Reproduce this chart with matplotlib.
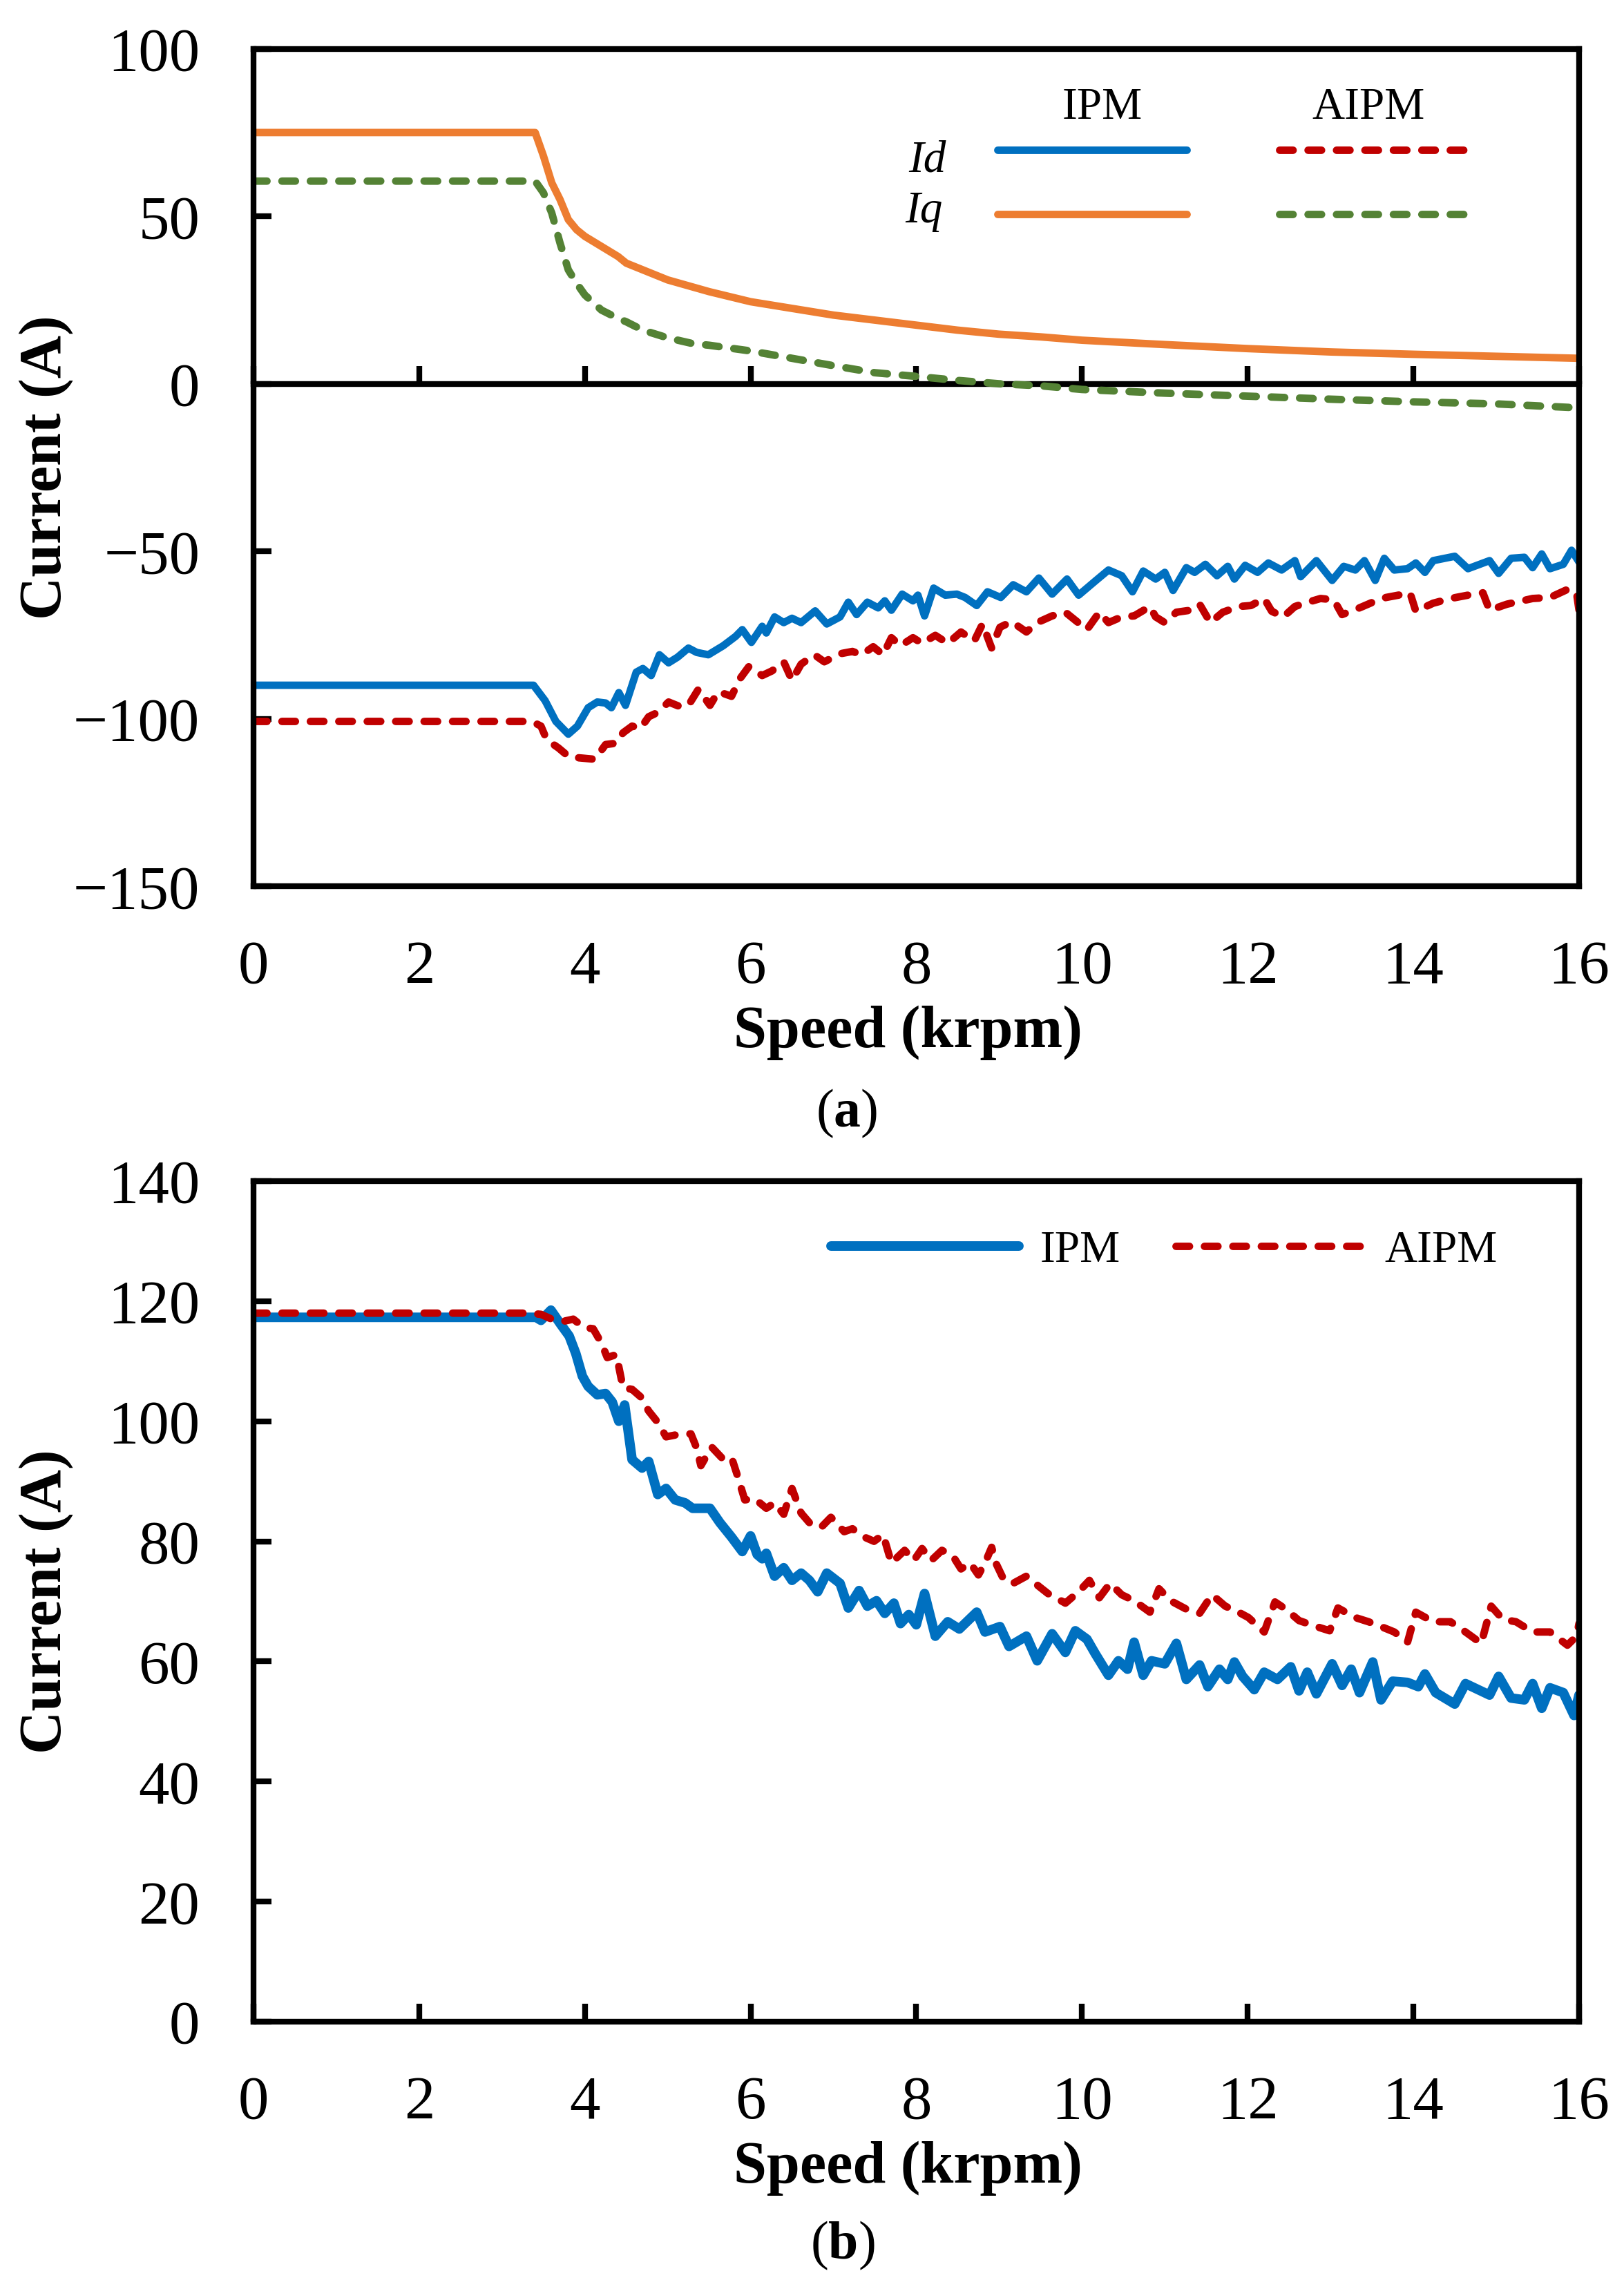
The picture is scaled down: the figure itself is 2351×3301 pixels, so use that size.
import matplotlib
matplotlib.use("Agg")
import matplotlib.pyplot as plt

plt.rcParams['font.family'] = ['Liberation Serif', 'DejaVu Serif']
plt.rcParams['mathtext.fontset'] = 'custom'
plt.rcParams['mathtext.rm'] = 'Liberation Serif'
plt.rcParams['mathtext.bf'] = 'Liberation Serif:bold'
plt.rcParams['mathtext.it'] = 'Liberation Serif:italic'

# ---------------- data, panel (a): d/q currents vs speed ----------------
speed_iq_ipm = [0, 3.4, 3.5, 3.6, 3.7, 3.8, 3.9, 4.0, 4.2, 4.4, 4.5, 4.7, 5.0, 5.5, 6.0,
                6.5, 7.0, 7.5, 8.0, 8.5, 9.0, 9.5, 10.0, 11.0, 12.0, 13.0, 14.0, 15.0, 16.0]
iq_ipm = [75, 75, 68, 60, 55, 49, 46, 44, 41, 38, 36, 34, 31, 27.5, 24.5,
          22.5, 20.5, 19, 17.5, 16, 14.8, 14, 13, 11.7, 10.5, 9.5, 8.8, 8.2, 7.6]

speed_iq_aipm = [0, 3.4, 3.5, 3.6, 3.7, 3.8, 3.9, 4.0, 4.2, 4.4, 4.5, 4.7, 5.0, 5.3, 5.5,
                 6.0, 6.5, 7.0, 7.5, 8.0, 8.5, 9.0, 9.5, 10.0, 11.0, 12.0, 13.0, 14.0,
                 15.0, 15.5, 16.0]
iq_aipm = [60.5, 60.5, 57, 51, 42, 34, 30, 26.5, 22, 19.5, 18.5, 16, 13.7, 12, 11.5,
           9.8, 7.6, 5.4, 3.3, 2.2, 1.0, 0, -0.6, -1.7, -2.8, -3.7, -4.6, -5.4,
           -6.0, -6.6, -7.2]

speed_id_ipm = [0, 3.38, 3.52, 3.65, 3.80, 3.91, 4.04, 4.15, 4.25, 4.32, 4.41, 4.49, 4.62,
                4.70, 4.80, 4.90, 5.01, 5.12, 5.25, 5.35, 5.49, 5.67, 5.82, 5.90, 6.01,
                6.14, 6.19, 6.29, 6.40, 6.50, 6.61, 6.78, 6.92, 7.08, 7.18, 7.28, 7.41,
                7.54, 7.62, 7.70, 7.83, 7.96, 8.02, 8.10, 8.21, 8.35, 8.49, 8.59, 8.73,
                8.86, 9.02, 9.17, 9.33, 9.48, 9.64, 9.82, 9.96, 10.17, 10.32, 10.48,
                10.61, 10.74, 10.89, 11.0, 11.10, 11.26, 11.36, 11.49, 11.63, 11.76,
                11.84, 11.97, 12.12, 12.25, 12.41, 12.57, 12.64, 12.83, 13.02, 13.16,
                13.30, 13.41, 13.54, 13.65, 13.77, 13.93, 14.03, 14.14, 14.24, 14.50,
                14.66, 14.92, 15.03, 15.18, 15.34, 15.44, 15.55, 15.65, 15.81, 15.91, 16.0]
id_ipm = [-90.0, -90.0, -94.6, -100.8, -104.6, -102.2, -96.7, -95.0, -95.3, -96.7, -92.2,
          -96.0, -86.1, -85.0, -87.1, -80.9, -83.3, -81.6, -78.9, -80.2, -80.9, -78.2,
          -75.4, -73.4, -77.2, -72.4, -74.4, -69.6, -71.3, -70.0, -71.3, -67.8, -71.7,
          -69.6, -65.2, -68.9, -65.2, -66.9, -64.8, -67.6, -62.8, -64.8, -63.1, -69.3,
          -61.0, -63.1, -62.8, -63.8, -66.2, -62.1, -63.8, -60.0, -62.1, -58.0, -62.8,
          -58.3, -63.1, -58.7, -55.6, -57.3, -62.1, -55.9, -58.3, -56.3, -61.7, -54.9,
          -56.3, -53.9, -57.3, -54.5, -58.3, -54.2, -56.3, -53.5, -55.6, -52.8, -57.6,
          -52.8, -58.7, -54.5, -55.6, -52.8, -58.7, -52.1, -55.6, -55.2, -53.5, -56.3,
          -52.8, -51.5, -55.2, -52.8, -56.6, -52.1, -51.8, -54.9, -50.8, -55.2, -53.9,
          -49.7, -53.2]

speed_id_aipm = [0, 3.36, 3.47, 3.54, 3.68, 3.81, 3.99, 4.12, 4.25, 4.38, 4.46, 4.57, 4.67,
                 4.77, 4.88, 5.01, 5.14, 5.25, 5.37, 5.51, 5.61, 5.77, 5.87, 5.98, 6.14,
                 6.26, 6.40, 6.50, 6.61, 6.77, 6.89, 7.08, 7.23, 7.34, 7.48, 7.60, 7.70,
                 7.81, 7.96, 8.07, 8.23, 8.38, 8.54, 8.70, 8.80, 8.91, 9.01, 9.15, 9.33,
                 9.46, 9.64, 9.80, 9.92, 10.06, 10.21, 10.32, 10.48, 10.63, 10.82, 10.89,
                 11.0, 11.14, 11.31, 11.42, 11.55, 11.70, 11.89, 12.04, 12.20, 12.29,
                 12.43, 12.57, 12.73, 12.88, 13.04, 13.14, 13.35, 13.51, 13.67, 13.82,
                 13.96, 14.03, 14.24, 14.45, 14.66, 14.84, 14.92, 15.13, 15.44, 15.65,
                 15.86, 15.97, 16.0]
id_aipm = [-100.8, -100.8, -102.2, -106.3, -108.7, -111.4, -111.8, -112.1, -107.7, -107.3,
           -104.2, -102.2, -102.9, -99.4, -98.1, -95.0, -96.3, -96.0, -91.2, -96.0, -91.9,
           -93.3, -88.1, -84.4, -87.1, -85.7, -83.0, -88.5, -83.7, -80.9, -83.0, -80.6,
           -79.9, -80.9, -78.5, -80.9, -75.8, -78.2, -75.8, -77.5, -75.1, -77.5, -74.1,
           -76.8, -71.7, -78.9, -72.7, -71.0, -74.1, -71.3, -69.3, -68.2, -70.6, -73.4,
           -68.2, -71.3, -69.6, -69.3, -66.5, -69.6, -71.3, -68.2, -67.6, -65.8, -71.3,
           -68.2, -66.5, -66.2, -64.1, -67.9, -69.6, -66.5, -65.2, -64.1, -64.5, -68.9,
           -66.9, -65.2, -63.8, -63.1, -62.4, -67.9, -65.5, -64.1, -63.1, -62.4, -67.6,
           -65.8, -64.1, -63.8, -61.4, -62.4, -67.6]

# ---------------- data, panel (b): current amplitude vs speed ----------------
speed_is_ipm = [0, 3.41, 3.47, 3.59, 3.71, 3.81, 3.89, 3.97, 4.04, 4.15, 4.25, 4.33, 4.41,
                4.48, 4.57, 4.69, 4.77, 4.88, 4.98, 5.09, 5.21, 5.30, 5.51, 5.63, 5.77,
                5.90, 6.0, 6.08, 6.14, 6.19, 6.29, 6.40, 6.50, 6.61, 6.71, 6.81, 6.92,
                7.08, 7.18, 7.31, 7.41, 7.52, 7.62, 7.73, 7.81, 7.91, 8.0, 8.10, 8.23,
                8.38, 8.52, 8.73, 8.83, 9.01, 9.12, 9.33, 9.46, 9.64, 9.80, 9.92, 10.06,
                10.16, 10.32, 10.44, 10.55, 10.63, 10.74, 10.84, 11.0, 11.14, 11.26,
                11.42, 11.52, 11.66, 11.76, 11.84, 11.94, 12.08, 12.20, 12.36, 12.52,
                12.62, 12.72, 12.83, 13.02, 13.14, 13.25, 13.35, 13.51, 13.61, 13.75,
                13.93, 14.06, 14.14, 14.27, 14.50, 14.63, 14.92, 15.03, 15.18, 15.34,
                15.44, 15.55, 15.65, 15.81, 15.94, 16.0]
is_ipm = [117.3, 117.3, 116.8, 118.5, 116.1, 114.2, 111.3, 107.5, 105.8, 104.4, 104.6,
          103.2, 100.0, 102.7, 93.6, 92.2, 93.3, 87.8, 88.8, 86.9, 86.4, 85.5, 85.5, 83.1,
          80.7, 78.3, 80.9, 77.8, 77.1, 78.0, 74.2, 75.6, 73.5, 74.7, 73.5, 71.6, 74.7,
          73.0, 68.9, 71.8, 69.2, 70.1, 68.0, 69.7, 66.3, 67.8, 66.1, 71.3, 64.2, 66.6,
          65.4, 68.2, 64.9, 65.8, 62.5, 64.2, 60.1, 64.6, 61.5, 65.1, 63.7, 61.3, 57.7,
          60.1, 58.7, 63.2, 57.7, 60.1, 59.6, 63.0, 57.0, 59.4, 55.8, 58.7, 57.0, 59.9,
          57.5, 55.3, 58.2, 57.0, 59.1, 55.1, 58.2, 54.6, 59.6, 56.0, 58.7, 54.8, 59.9,
          53.6, 56.7, 56.5, 55.8, 57.9, 54.8, 52.9, 56.3, 54.4, 57.5, 53.9, 53.6, 56.3,
          52.2, 55.6, 54.8, 51.0, 54.4]

speed_is_aipm = [0, 3.31, 3.47, 3.60, 3.73, 3.86, 3.99, 4.10, 4.20, 4.27, 4.38, 4.46, 4.57,
                 4.67, 4.77, 4.88, 4.98, 5.09, 5.28, 5.35, 5.40, 5.53, 5.66, 5.77, 5.84,
                 5.93, 6.05, 6.19, 6.29, 6.40, 6.50, 6.61, 6.71, 6.85, 6.97, 7.13, 7.23,
                 7.34, 7.49, 7.60, 7.70, 7.86, 7.97, 8.07, 8.18, 8.31, 8.44, 8.54, 8.65,
                 8.75, 8.83, 8.91, 8.96, 9.06, 9.17, 9.33, 9.48, 9.59, 9.80, 9.96, 10.09,
                 10.21, 10.34, 10.48, 10.63, 10.82, 10.93, 11.07, 11.26, 11.42, 11.57,
                 11.73, 11.89, 12.01, 12.20, 12.33, 12.46, 12.62, 12.83, 12.99, 13.09,
                 13.30, 13.46, 13.61, 13.77, 13.93, 14.03, 14.24, 14.45, 14.61, 14.82,
                 14.94, 15.08, 15.24, 15.44, 15.65, 15.86, 15.97, 16.0]
is_aipm = [118.0, 118.0, 117.8, 117.0, 116.6, 117.0, 115.6, 115.4, 113.0, 110.6, 111.1,
           105.6, 105.3, 104.1, 101.7, 99.8, 97.4, 97.7, 97.9, 95.5, 92.6, 95.7, 93.8,
           94.0, 91.0, 86.9, 87.1, 85.5, 86.4, 84.5, 88.8, 84.7, 83.1, 82.3, 84.0, 81.6,
           82.1, 80.9, 80.0, 81.1, 76.4, 78.5, 76.8, 78.8, 76.8, 78.5, 77.6, 75.4, 76.4,
           74.4, 76.4, 79.0, 76.4, 73.5, 73.0, 74.2, 72.5, 71.3, 69.7, 71.6, 73.5, 70.6,
           73.0, 71.1, 70.1, 68.2, 72.1, 70.1, 68.7, 68.0, 71.1, 69.2, 68.2, 67.3, 64.9,
           69.9, 68.7, 66.8, 65.8, 65.1, 68.9, 67.3, 66.6, 65.8, 64.9, 63.2, 68.2, 66.6,
           66.6, 65.1, 63.0, 69.2, 67.0, 66.6, 64.9, 64.9, 62.7, 64.2, 66.3]

x_ticks = [0, 2, 4, 6, 8, 10, 12, 14, 16]
y_ticks_a = [-150, -100, -50, 0, 50, 100]
y_ticks_b = [0, 20, 40, 60, 80, 100, 120, 140]

BLUE, ORANGE, GREEN, RED = '#0070C0', '#ED7D31', '#548235', '#C00000'
DASH = (0, (1.8, 2.0))
TICK_FS, LABEL_FS, LEG_FS = 64, 62, 47

fig = plt.figure(figsize=(23.51, 33.01), dpi=100)
ax1 = fig.add_axes([0.1561, 0.6113, 0.8162, 0.3673])
ax2 = fig.add_axes([0.1561, 0.1133, 0.8162, 0.3687])


def style_axes(ax):
    for sp in ax.spines.values():
        sp.set_linewidth(6)
    ax.tick_params(axis='both', which='major', direction='in', length=19, width=6,
                   labelsize=TICK_FS, pad=56, top=False, right=False)
    ax.set_xlim(0, 16)
    ax.set_xticks(x_ticks)
    ax.set_xlabel('Speed (krpm)', fontsize=LABEL_FS, fontweight='bold')
    ax.set_ylabel('Current (A)', fontsize=LABEL_FS, fontweight='bold')
    ax.xaxis.set_label_coords(0.494, -0.142)
    ax.yaxis.set_label_coords(-0.136, 0.5)


# ---------------- panel (a) ----------------
style_axes(ax1)
ax1.set_ylim(-150, 100)
ax1.set_yticks(y_ticks_a)
ax1.tick_params(axis='x', length=0)

line_kw = dict(lw=7.8, solid_capstyle='round', dash_capstyle='round')
h_id_ipm, = ax1.plot(speed_id_ipm, id_ipm, color=BLUE, **line_kw)
h_iq_ipm, = ax1.plot(speed_iq_ipm, iq_ipm, color=ORANGE, **line_kw)
h_id_aipm, = ax1.plot(speed_id_aipm, id_aipm, color=RED, ls=DASH, **line_kw)
h_iq_aipm, = ax1.plot(speed_iq_aipm, iq_aipm, color=GREEN, ls=DASH, **line_kw)

# zero line with upward ticks
ylo, yhi = ax1.get_ylim()
zero_axis = ax1.secondary_xaxis((0 - ylo) / (yhi - ylo))
zero_axis.set_xticks(x_ticks)
zero_axis.tick_params(axis='x', direction='out', length=19, width=6,
                      labeltop=False, labelbottom=False)
for sp in zero_axis.spines.values():
    sp.set_linewidth(6)

leg1 = ax1.legend([h_id_ipm, h_iq_ipm, h_id_aipm, h_iq_aipm], ['', '', '', ''],
                  ncol=2, loc='center left', bbox_to_anchor=(0.5611, 0.8352),
                  frameon=False, fontsize=LEG_FS, handlelength=4.21, handletextpad=0,
                  columnspacing=2.04, labelspacing=0.5, borderpad=0, borderaxespad=0)
ax1.text(0.6405, 0.9163, 'IPM', transform=ax1.transAxes, fontsize=LEG_FS,
         ha='center', va='baseline')
ax1.text(0.8413, 0.9163, 'AIPM', transform=ax1.transAxes, fontsize=LEG_FS,
         ha='center', va='baseline')
ax1.text(0.5224, 0.8536, 'Id', transform=ax1.transAxes, fontsize=LEG_FS,
         style='italic', ha='right', va='baseline')
ax1.text(0.5198, 0.7926, 'Iq', transform=ax1.transAxes, fontsize=LEG_FS,
         style='italic', ha='right', va='baseline')

# ---------------- panel (b) ----------------
style_axes(ax2)
ax2.set_ylim(0, 140)
ax2.set_yticks(y_ticks_b)

ax2.plot(speed_is_ipm, is_ipm, color=BLUE, lw=10, solid_capstyle='round',
         label='IPM')
ax2.plot(speed_is_aipm, is_aipm, color=RED, lw=7.8, ls=DASH,
         dash_capstyle='round', label='AIPM')
ax2.legend(ncol=2, loc='center left', bbox_to_anchor=(0.4355, 0.9167),
           frameon=False, fontsize=LEG_FS, handlelength=4.17, handletextpad=0.47,
           columnspacing=1.23, borderpad=0, borderaxespad=0)

fig.text(0.5215, 0.5115, r'($\mathbf{a}$)', fontsize=56, ha='center', va='center')
fig.text(0.519, 0.0150, r'($\mathbf{b}$)', fontsize=56, ha='center', va='center')

fig.savefig('out.png', dpi=100)
